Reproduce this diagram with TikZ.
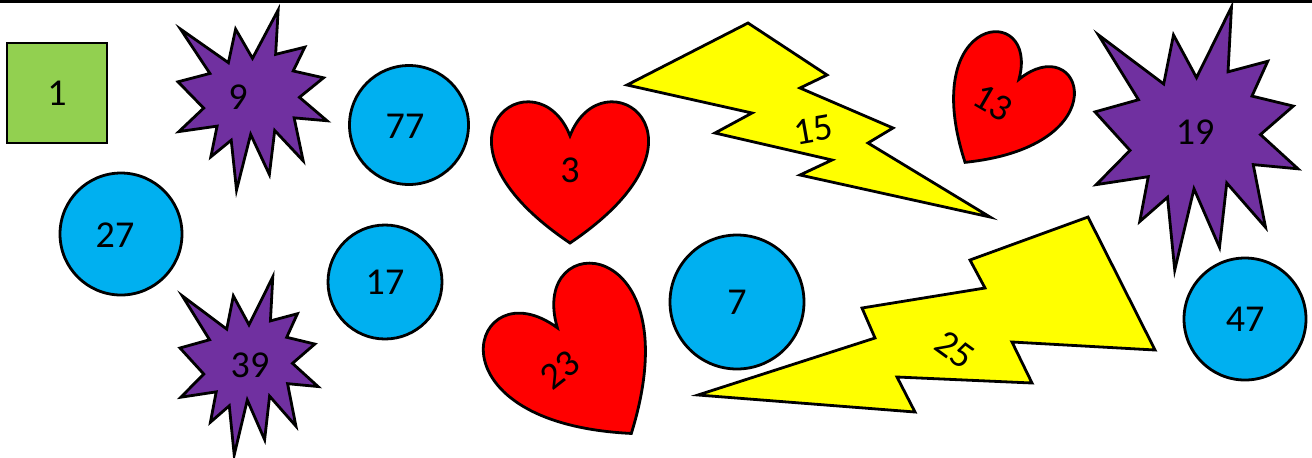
\documentclass[tikz,border=0pt]{standalone}
\usepackage{fontspec}
\setmainfont{Carlito}
\definecolor{leafgreen}{HTML}{92D050}
\definecolor{skyblue}{HTML}{00B0F0}
\definecolor{grape}{HTML}{7030A0}
\definecolor{bolt}{HTML}{FFFF00}
\definecolor{heartred}{HTML}{FF0000}
% outline of a burst, in a 100 x 100 box
\newcommand{\burstpath}{(50,26.85) -- (67.23,0) -- (65.53,24.65) -- (85.09,20.63)
  -- (77.32,33.87) -- (97.67,37.67) -- (81.51,48.50) -- (100,61.53) -- (77.95,59.92)
  -- (84.00,83.77) -- (64.91,66.93) -- (61.33,91.38) -- (48.76,69.14) -- (39.28,100)
  -- (35.72,72.35) -- (22.05,81.56) -- (26.24,64.52) -- (0.63,67.53) -- (17.23,54.51)
  -- (0,39.88) -- (21.42,35.26) -- (1.71,10.63) -- (33.85,29.26) -- (38.67,10.63) -- cycle}
% outline of a heart, in a 100 x 100 box
\newcommand{\heartpath}{(50,25) .. controls (70.83,-33.33) and (152.08,25) .. (50,100)
  .. controls (-52.08,25) and (29.17,-33.33) .. (50,25) -- cycle}

\begin{document}
\begin{tikzpicture}[x=0.5pt,y=-0.5pt,line width=1.4pt,
  num/.style={font=\fontsize{19}{22}\selectfont,inner sep=0pt},
  disc/.style={circle,draw,fill=skyblue,minimum size=#1,num},
  outline/.style={draw,line join=miter}]
\useasboundingbox (0,0) rectangle (1312,457);
% ---- table edge on top ----
\draw[line width=1.2pt] (0,1.5) -- (1312,1.5);
\foreach \t in {268,529,790,1051}
  \draw[line width=0.5pt] (\t,0) -- (\t,2);
% ---- square and circles ----
\node[draw,fill=leafgreen,minimum size=50pt,num] (sq1) at (57,93) {1};
\node[disc=61pt] (c27) at (121,234) {};
\node[num] (t27) at (115,235) {27};
\node[disc=59.5pt] (c77) at (409,125) {};
\node[num] (t77) at (405,126) {77};
\node[disc=57pt] (c17) at (385,282) {17};
\node[disc=67pt] (c7) at (737,302) {7};
\node[disc=61pt] (c47) at (1245,319) {47};
% ---- bursts ----
\begin{scope}[shift={(178,10)},xscale=1.49,yscale=1.8]
  \filldraw[outline,fill=grape] \burstpath;
\end{scope}
\begin{scope}[shift={(180,277)},xscale=1.38,yscale=1.78]
  \filldraw[outline,fill=grape] \burstpath;
\end{scope}
\begin{scope}[shift={(1095,7)},xscale=2.03,yscale=2.63]
  \filldraw[outline,fill=grape] \burstpath;
\end{scope}
\node[num] (b9) at (238,97) {9};
\node[num] (b39) at (250,365) {39};
\node[num] (b19) at (1195,132) {19};
% ---- hearts ----
\begin{scope}[shift={(492,100)},xscale=1.56,yscale=1.43]
  \filldraw[outline,fill=heartred] \heartpath;
\end{scope}
\begin{scope}[shift={(1001,107)},rotate=-33,xscale=1.2,yscale=1.32,shift={(-50,-50)}]
  \filldraw[outline,fill=heartred] \heartpath;
\end{scope}
\begin{scope}[shift={(582,363)},rotate=35,xscale=1.63,yscale=1.72,shift={(-50,-50)}]
  \filldraw[outline,fill=heartred] \heartpath;
\end{scope}
\node[num] (h3) at (570,170) {3};
\node[num,rotate=-30] (h13) at (993,103) {13};
\node[num,rotate=38] (h23) at (560,370) {23};
% ---- lightning ----
\filldraw[outline,fill=bolt] (748,23) -- (827,75) -- (800,88) -- (893,128) -- (868,143)
  -- (990,217) -- (800,175) -- (832,160) -- (715,133) -- (752,113) -- (627,85) -- cycle;
\filldraw[outline,fill=bolt] (1088,217) -- (1155,350) -- (1012,342) -- (1032,383) -- (897,377)
  -- (915,412) -- (698,395) -- (875,338) -- (862,308) -- (985,288) -- (970,260) -- cycle;
\node[num,rotate=10] (l15) at (813,130) {15};
\node[num,rotate=-36] (l25) at (955,350) {25};
\end{tikzpicture}
\end{document}
